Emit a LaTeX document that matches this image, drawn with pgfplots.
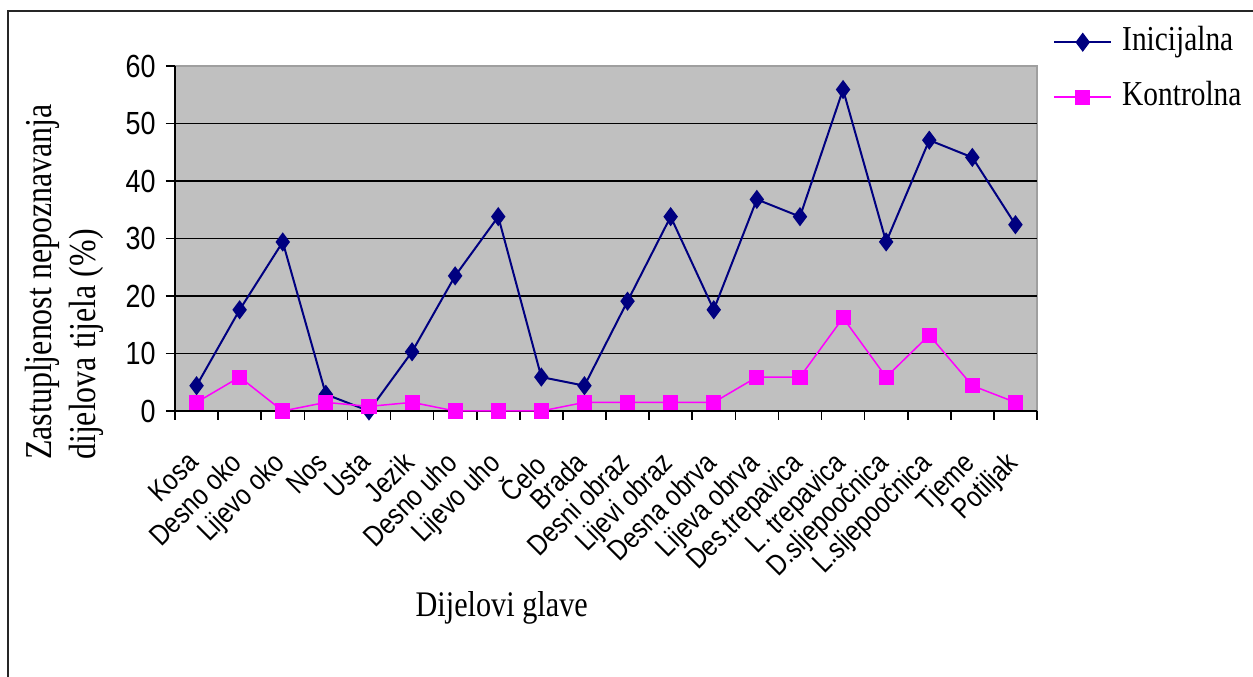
\documentclass[border=0pt]{standalone}
\usepackage{pgfplots}
\pgfplotsset{compat=1.18}
\usepackage{pgfplotstable}
\usepackage{fontspec}
\setmainfont{Liberation Serif}
\newfontfamily\chartsans[FakeStretch=0.84]{Liberation Sans}
\newfontfamily\chartserif[FakeStretch=0.84]{Liberation Serif}
\definecolor{navyline}{HTML}{000080}
\definecolor{magline}{HTML}{FF00FF}
\definecolor{plotgray}{HTML}{C0C0C0}

% idx: dio glave, ini: inicijalna, kon: kontrolna (u %)
\pgfplotstableread{
idx ini  kon
0   4.4  1.5
1   17.6 5.9
2   29.4 0.0
3   2.9  1.5
4   0.0  0.8
5   10.3 1.5
6   23.5 0.0
7   33.8 0.0
8   5.9  0.0
9   4.4  1.5
10  19.1 1.5
11  33.8 1.5
12  17.6 1.5
13  36.8 5.9
14  33.8 5.9
15  55.9 16.2
16  29.4 5.9
17  47.1 13.2
18  44.1 4.4
19  32.4 1.5
}\glavatable

\begin{document}
\begin{tikzpicture}[x=1pt,y=1pt]
\useasboundingbox (0,0) rectangle (1253,677);
\draw[line width=2pt, black!85] (8,-2) -- (8,666) -- (1256,666);
\begin{axis}[
  at={(175pt,266pt)}, anchor=south west,
  scale only axis, width=862pt, height=345pt,
  xmin=-0.5, xmax=19.5, ymin=0, ymax=60,
  clip=false,
  axis x line*=bottom, axis y line*=left,
  axis line style={black, line width=1.8pt},
  axis background/.style={fill=plotgray, draw=gray!75, line width=1.5pt},
  ytick={0,10,...,60},
  extra y ticks={10,20,30,40,50},
  extra y tick labels={},
  extra y tick style={grid=major},
  grid style={black, line width=1.6pt},
  xtick={-0.5,0.5,...,19.5},
  xticklabels={},
  extra x ticks={0,...,19},
  extra x tick style={tick style={draw=none}},
  extra x tick labels={Kosa,Desno oko,Lijevo oko,Nos,Usta,Jezik,Desno uho,Lijevo uho,Čelo,Brada,Desni obraz,Lijevi obraz,Desna obrva,Lijeva obrva,Des.trepavica,L. trepavica,D.sljepoočnica,L.sljepoočnica,Tjeme,Potiljak},
  tick align=outside,
  major tick length=9pt,
  tick style={black, line width=1.6pt},
  /pgf/number format/assume math mode=true,
  yticklabel style={font=\chartsans\fontsize{32}{38}\selectfont, xshift=-7pt},
  x tick label style={font=\chartsans\fontsize{29}{35}\selectfont, yshift=-30pt, xshift=-11pt, rotate=45, anchor=north east, inner sep=0pt},
  ylabel={Zastupljenost nepoznavanja\\dijelova tijela (\%)},
  ylabel style={font=\chartserif\fontsize{38}{44}\selectfont, align=left, at={(axis description cs:-0.174,-0.142)}, anchor=north west, inner sep=0pt},
  xlabel={Dijelovi glave},
  xlabel style={font=\chartserif\fontsize{36}{42}\selectfont, at={(axis description cs:0.379,-0.597)}, anchor=base, inner sep=0pt},
  legend style={at={(axis description cs:1.0186,1.116)}, anchor=north west, draw=none, fill=none,
    font=\chartserif\fontsize{35}{40}\selectfont, inner sep=0pt, row sep=23pt,
    nodes={inner sep=0pt, text height=24pt, text depth=8pt},
    /tikz/every odd column/.append style={column sep=10pt}},
  legend cell align=left,
  legend image code/.code={\draw[mark repeat=2, mark phase=2, #1] plot coordinates {(0pt,0pt) (28.5pt,0pt) (57pt,0pt)};},
]
\addplot[navyline, line width=2pt, mark=diamond*, mark size=8pt, mark options={solid, fill=navyline, draw=navyline}]
  table[x=idx, y=ini] {\glavatable};
\addlegendentry{Inicijalna}
\addplot[magline, line width=1.5pt, mark=square*, mark size=6.8pt, mark options={solid, fill=magline, draw=magline}]
  table[x=idx, y=kon] {\glavatable};
\addlegendentry{Kontrolna}
\end{axis}
\end{tikzpicture}
\end{document}
